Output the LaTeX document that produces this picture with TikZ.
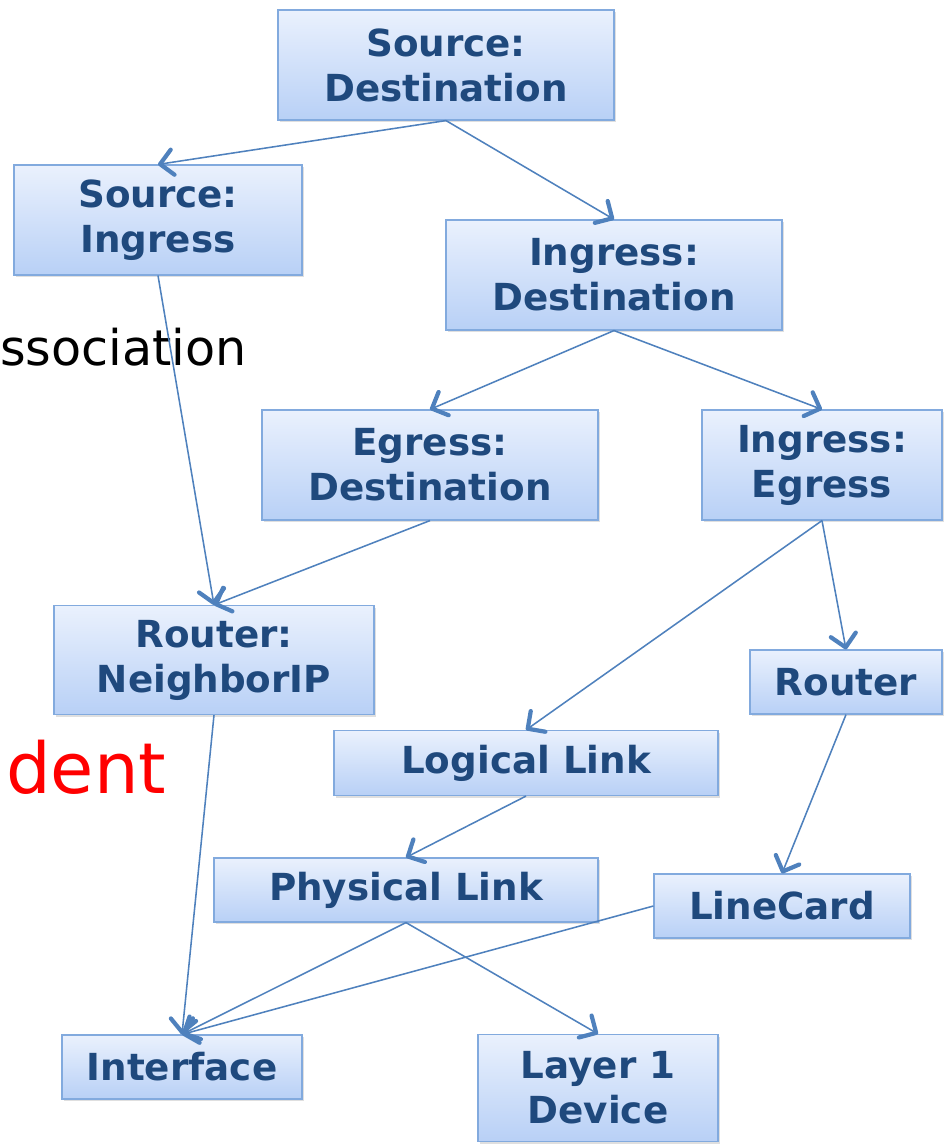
\documentclass[tikz,border=0pt]{standalone}
\usepackage{fontspec}
\setmainfont{DejaVu Sans}
\usetikzlibrary{arrows.meta,shadows}

\definecolor{boxtext}{RGB}{31,73,125}
\definecolor{boxline}{RGB}{130,170,222}
\definecolor{boxtop}{RGB}{234,241,253}
\definecolor{boxbot}{RGB}{184,208,246}
\definecolor{linkcol}{RGB}{79,129,189}

\begin{document}
\begin{tikzpicture}[x=0.025cm,y=-0.025cm,
    entity/.style={draw=boxline, line width=0.8pt, top color=boxtop, bottom color=boxbot,
      drop shadow={shadow xshift=1.5pt, shadow yshift=-1.5pt, opacity=0.25},
      text=boxtext, font=\fontsize{26.5}{32}\selectfont\bfseries,
      align=center, inner sep=0pt},
    link/.style={draw=linkcol, line width=1.1pt,
      -{Straight Barb[length=9pt,width=18pt,line width=3pt,round]}},
    side/.style={anchor=base west, inner sep=0pt}]
    \useasboundingbox (0,0) rectangle (951,1144);

    % cut-off words at the left edge
    \node[side, font=\fontsize{35}{40}\selectfont] (assoc) at (0,365) {ssociation};
    \node[side, font=\fontsize{50}{56}\selectfont, text=red] (indep) at (6,793) {dent};

    % top of the tree
    \node[entity, minimum width=8.4cm, minimum height=2.75cm] (srcdst) at (446,65) {Source:\\Destination};
    \node[entity, minimum width=7.2cm, minimum height=2.75cm] (srcing) at (158,220) {Source:\\Ingress};
    \node[entity, minimum width=8.4cm, minimum height=2.75cm] (ingdst) at (614,275) {Ingress:\\Destination};
    \node[entity, minimum width=8.4cm, minimum height=2.75cm] (egrdst) at (430,465) {Egress:\\Destination};
    \node[entity, minimum width=6cm, minimum height=2.75cm] (ingegr) at (822,465) {Ingress:\\Egress};

    % middle
    \node[entity, minimum width=8cm, minimum height=2.725cm] (nbrip) at (214,660) {Router:\\NeighborIP};
    \node[entity, minimum width=4.8cm, minimum height=1.6cm] (router) at (846,682) {Router};
    \node[entity, minimum width=9.6cm, minimum height=1.625cm] (loglink) at (526,763) {Logical Link};

    % bottom
    \node[entity, minimum width=9.6cm, minimum height=1.6cm] (phylink) at (406,890) {Physical Link};
    \node[entity, minimum width=6.4cm, minimum height=1.6cm] (linecard) at (782,906) {LineCard};
    \node[entity, minimum width=6cm, minimum height=1.6cm] (iface) at (182,1067) {Interface};
    \node[entity, minimum width=6cm, minimum height=2.675cm] (layer1) at (598,1088) {Layer 1\\Device};

    % connectors
    \draw[link] (srcdst.south) -- (srcing.north);
    \draw[link] (srcdst.south) -- (ingdst.north);
    \draw[link] (ingdst.south) -- (egrdst.north);
    \draw[link] (ingdst.south) -- (ingegr.north);
    \draw[link] (srcing.south) -- (nbrip.north);
    \draw[link] (egrdst.south) -- (nbrip.north);
    \draw[link] (ingegr.south) -- (loglink.north);
    \draw[link] (ingegr.south) -- (router.north);
    \draw[link] (router.south) -- (linecard.north);
    \draw[link] (loglink.south) -- (phylink.north);
    \draw[link] (nbrip.south) -- (iface.north);
    \draw[link] (phylink.south) -- (iface.north);
    \draw[link] (phylink.south) -- (layer1.north);
    \draw[link] (linecard.west) -- (iface.north);
\end{tikzpicture}
\end{document}
